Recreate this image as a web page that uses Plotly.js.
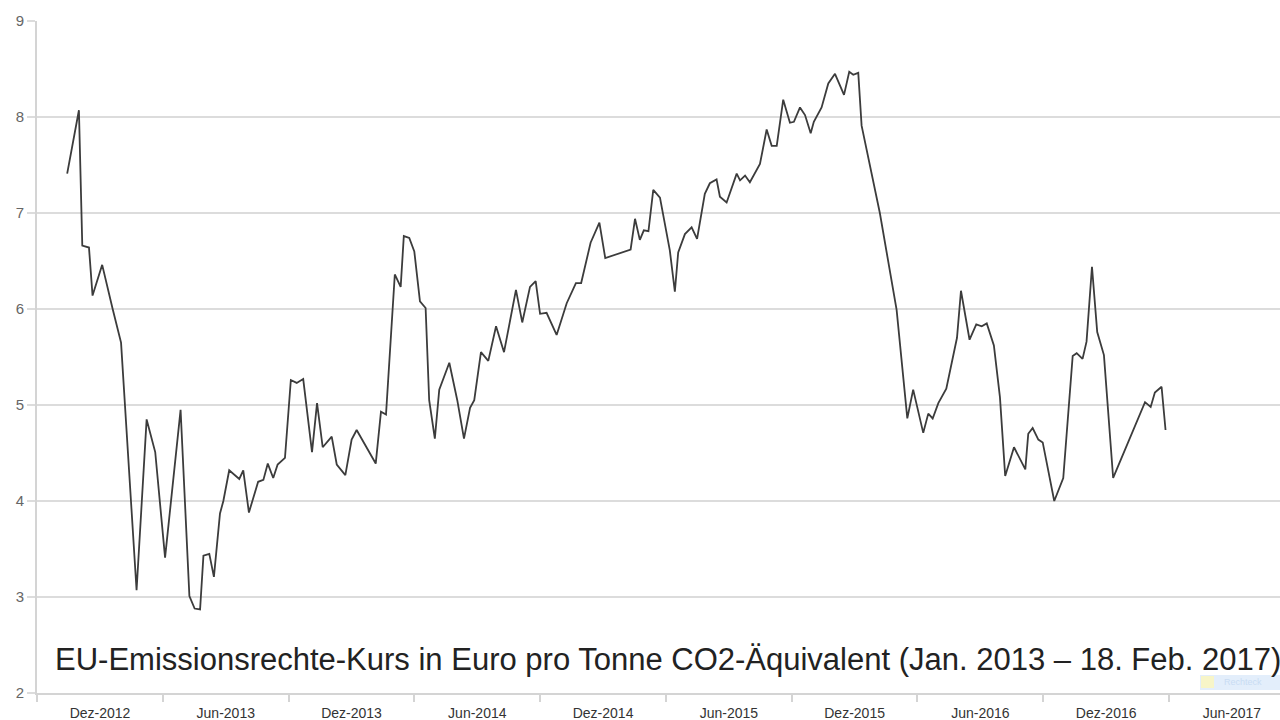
<!DOCTYPE html>
<html>
<head>
<meta charset="utf-8">
<script src="https://cdn.plot.ly/plotly-3.0.1.min.js"></script>
<style>
  html, body { margin: 0; padding: 0; background: #fff; }
  #chart { width: 1280px; height: 720px; }
</style>
</head>
<body>
<div id="chart"></div>
<script>
// x: months relative to "Dez-2012" (0 = Dez-2012 label, 6 = Jun-2013, ...)
const months = [
  -1.56, -1.00, -0.84, -0.52, -0.35, 0.11, 0.61, 1.01, 1.75, 2.23,
  2.64, 3.11, 3.85, 4.27, 4.52, 4.78, 4.94, 5.22, 5.44, 5.73,
  5.89, 6.17, 6.65, 6.84, 7.11, 7.55, 7.80, 8.01, 8.27, 8.48,
  8.83, 9.11, 9.39, 9.70, 10.12, 10.36, 10.63, 11.06, 11.30, 11.71,
  12.01, 12.25, 13.16, 13.41, 13.65, 14.07, 14.35, 14.50, 14.76, 15.00,
  15.27, 15.54, 15.71, 15.98, 16.19, 16.67, 17.05, 17.37, 17.66, 17.86,
  18.18, 18.53, 18.90, 19.28, 19.85, 20.15, 20.52, 20.79, 21.00, 21.31,
  21.79, 22.27, 22.71, 22.96, 23.41, 23.83, 24.11, 25.32, 25.53, 25.76,
  25.95, 26.17, 26.40, 26.72, 27.19, 27.43, 27.59, 27.91, 28.23, 28.49,
  28.86, 29.10, 29.42, 29.58, 29.90, 30.38, 30.54, 30.78, 31.01, 31.49,
  31.81, 32.05, 32.29, 32.60, 32.92, 33.11, 33.40, 33.64, 33.91, 34.06,
  34.43, 34.75, 35.07, 35.50, 35.75, 35.94, 36.18, 36.34, 37.21, 38.01,
  38.52, 38.80, 39.28, 39.52, 39.73, 40.00, 40.38, 40.89, 41.08, 41.49,
  41.81, 42.07, 42.31, 42.65, 42.94, 43.19, 43.61, 44.15, 44.29, 44.50,
  44.77, 44.98, 45.53, 45.96, 46.41, 46.60, 46.88, 47.07, 47.33, 47.58,
  47.90, 48.34, 49.86, 50.13, 50.33, 50.65, 50.84
];
// EUA price, Euro per tonne CO2-equivalent
const prices = [
  7.41, 8.07, 6.66, 6.64, 6.14, 6.46, 6.00, 5.65, 3.07, 4.85,
  4.51, 3.41, 4.95, 3.01, 2.88, 2.87, 3.43, 3.45, 3.21, 3.87,
  4.00, 4.32, 4.23, 4.32, 3.88, 4.20, 4.22, 4.39, 4.24, 4.38,
  4.45, 5.26, 5.23, 5.27, 4.51, 5.02, 4.56, 4.67, 4.38, 4.27,
  4.64, 4.74, 4.39, 4.93, 4.90, 6.36, 6.23, 6.76, 6.74, 6.60,
  6.08, 6.01, 5.05, 4.65, 5.16, 5.44, 5.05, 4.65, 4.97, 5.05,
  5.55, 5.46, 5.82, 5.55, 6.20, 5.86, 6.23, 6.29, 5.95, 5.96,
  5.73, 6.06, 6.27, 6.27, 6.69, 6.90, 6.53, 6.62, 6.94, 6.72,
  6.82, 6.81, 7.24, 7.16, 6.61, 6.18, 6.59, 6.78, 6.85, 6.73,
  7.20, 7.31, 7.35, 7.17, 7.11, 7.41, 7.34, 7.39, 7.32, 7.51,
  7.87, 7.70, 7.70, 8.18, 7.94, 7.95, 8.10, 8.02, 7.83, 7.95,
  8.10, 8.35, 8.45, 8.23, 8.47, 8.44, 8.46, 7.91, 7.00, 5.99,
  4.86, 5.16, 4.71, 4.91, 4.86, 5.02, 5.17, 5.70, 6.19, 5.68,
  5.84, 5.82, 5.85, 5.62, 5.08, 4.26, 4.56, 4.33, 4.70, 4.76,
  4.64, 4.61, 4.00, 4.24, 5.51, 5.54, 5.48, 5.66, 6.44, 5.76,
  5.52, 4.24, 5.03, 4.98, 5.13, 5.19, 4.74
];
// category boundaries (tick marks) and their labels (drawn centred in each period)
const tickBounds = [-3, 3, 9, 15, 21, 27, 33, 39, 45, 51];
const tickLabels = ["Dez-2012", "Jun-2013", "Dez-2013", "Jun-2014", "Dez-2014",
                    "Jun-2015", "Dez-2015", "Jun-2016", "Dez-2016", "Jun-2017"];
const yTicks = [2, 3, 4, 5, 6, 7, 8, 9];
const titleText = "EU-Emissionsrechte-Kurs in Euro pro Tonne CO2-Äquivalent (Jan. 2013 – 18. Feb. 2017)";

const trace = {
  x: months, y: prices, type: 'scatter', mode: 'lines',
  line: { color: '#3c3c3c', width: 1.8 },
  hoverinfo: 'skip', showlegend: false
};

const layout = {
  width: 1280, height: 720,
  margin: { l: 37, r: 0, t: 21, b: 27 },
  paper_bgcolor: '#ffffff', plot_bgcolor: '#ffffff',
  font: { family: 'Liberation Sans, Arial, sans-serif' },
  showlegend: false,
  title: {
    text: titleText,
    font: { family: 'Liberation Sans, Arial, sans-serif', size: 31, color: '#222222' },
    xref: 'container', yref: 'container',
    x: 55 / 1280, xanchor: 'left',
    y: 1 - 659 / 720, yanchor: 'middle'
  },
  xaxis: {
    range: [-3, 56.3],
    tickmode: 'array', tickvals: tickBounds, ticktext: tickLabels,
    ticklabelshift: 63,
    ticks: 'outside', ticklen: 7, tickwidth: 2, tickcolor: '#d4d4d4',
    ticklabelstandoff: -1,
    tickfont: { size: 14, color: '#333333' },
    showgrid: false, zeroline: false,
    showline: true, linecolor: '#d4d4d4', linewidth: 2,
    fixedrange: true
  },
  yaxis: {
    range: [2, 9],
    tickmode: 'array', tickvals: yTicks,
    ticks: 'outside', ticklen: 8, tickwidth: 2, tickcolor: '#dcdcdc',
    tickfont: { size: 15, color: '#666666' },
    showgrid: true, gridcolor: '#dcdcdc', gridwidth: 2,
    zeroline: false,
    showline: true, linecolor: '#d4d4d4', linewidth: 2,
    fixedrange: true
  },
  shapes: [
    { type: 'rect', xref: 'paper', yref: 'paper',
      x0: (1200 - 37) / 1243, x1: 1, y0: (693 - 690) / 672, y1: (693 - 675) / 672,
      fillcolor: '#e3eefb', line: { width: 0 } },
    { type: 'rect', xref: 'paper', yref: 'paper',
      x0: (1201 - 37) / 1243, x1: (1214 - 37) / 1243, y0: (693 - 688) / 672, y1: (693 - 676) / 672,
      fillcolor: '#f7f5c8', line: { width: 0 } }
  ],
  annotations: [
    { text: 'Rechteck', xref: 'paper', yref: 'paper',
      x: (1222 - 37) / 1243, y: (693 - 682) / 672, xanchor: 'left', yanchor: 'middle',
      showarrow: false, font: { size: 9, color: '#c9dcf3' } }
  ]
};

Plotly.newPlot('chart', [trace], layout, { displayModeBar: false, staticPlot: true });
</script>
</body>
</html>
